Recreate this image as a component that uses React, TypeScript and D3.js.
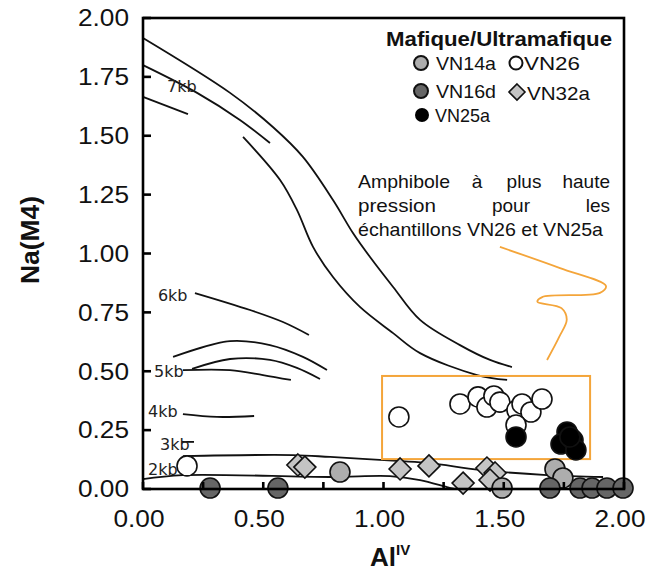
import * as d3 from 'd3';

// isobars (x = Al IV, y = Na M4)
const iso7a: [number, number][] = [[0, 1.915], [0.362, 1.682], [0.54, 1.537], [0.665, 1.41], [0.79, 1.227], [0.873, 1.087], [0.944, 0.985], [1.04, 0.858], [1.152, 0.718], [1.318, 0.611], [1.443, 0.548], [1.534, 0.518]];
const iso7b: [number, number][] = [[0, 1.8], [0.225, 1.682], [0.403, 1.567], [0.528, 1.469]];
const iso7c: [number, number][] = [[0, 1.665], [0.187, 1.592]];
const iso7d: [number, number][] = [[0.416, 1.495], [0.57, 1.312], [0.64, 1.185], [0.707, 1.028], [0.79, 0.9], [0.902, 0.773], [1.04, 0.662], [1.152, 0.577], [1.389, 0.484], [1.514, 0.463]];
const iso6: [number, number][] = [[0.216, 0.832], [0.445, 0.76], [0.582, 0.709], [0.69, 0.654]];
const iso5a: [number, number][] = [[0.125, 0.561], [0.362, 0.628], [0.528, 0.611], [0.665, 0.561], [0.765, 0.505]];
const iso5b: [number, number][] = [[0.204, 0.51], [0.362, 0.552], [0.528, 0.548], [0.64, 0.514], [0.736, 0.467]];
const iso5c: [number, number][] = [[0.166, 0.505], [0.362, 0.505], [0.499, 0.484], [0.615, 0.463]];
const iso4: [number, number][] = [[0.166, 0.318], [0.308, 0.306], [0.462, 0.31]];
const iso3: [number, number][] = [[0.162, 0.2], [0.212, 0.2]];
const iso2a: [number, number][] = [[0.166, 0.14], [0.624, 0.144], [0.778, 0.136], [1.056, 0.119], [1.193, 0.11], [1.401, 0.081], [1.68, 0.059], [1.913, 0.051]];
const iso2b: [number, number][] = [[0, 0.042], [0.166, 0.059], [0.778, 0.051], [1.027, 0.055], [1.152, 0.038], [1.264, 0.008], [1.297, 0]];
const isobars = [iso7a, iso7b, iso7c, iso7d, iso6, iso5a, iso5b, iso5c, iso4, iso3, iso2a, iso2b];

const isoLabels = ['7kb', '6kb', '5kb', '4kb', '3kb', '2kb'];
const isoLabelPos: [number, number][] = [[0.1, 1.686], [0.062, 0.798], [0.046, 0.475], [0.021, 0.306], [0.071, 0.166], [0.021, 0.059]];

// samples
const vn14a: [number, number][] = [[0.819, 0.072], [1.493, 0.004], [1.713, 0.085], [1.746, 0.047]];
const vn16d: [number, number][] = [[0.279, 0.004], [0.561, 0.004], [1.692, 0.004], [1.817, 0.004], [1.867, 0.004], [1.929, 0.004], [1.996, 0.004]];
const vn32a: [number, number][] = [[0.644, 0.102], [0.673, 0.093], [1.069, 0.085], [1.189, 0.098], [1.331, 0.025], [1.43, 0.089], [1.464, 0.068], [1.443, 0.038]];
const vn26: [number, number][] = [[0.183, 0.098], [1.064, 0.306], [1.318, 0.361], [1.393, 0.391], [1.43, 0.348], [1.459, 0.395], [1.484, 0.369], [1.555, 0.335], [1.576, 0.361], [1.613, 0.327], [1.659, 0.382], [1.551, 0.272]];
const vn25a: [number, number][] = [[1.551, 0.221], [1.763, 0.242], [1.738, 0.191], [1.788, 0.208], [1.8, 0.166], [1.775, 0.221]];

// orange highlight box and squiggle
const boxX = [0.994, 1.859];
const boxY = [0.127, 0.48];
const squiggle: [number, number][] = [[1.484, 1.028], [1.734, 0.938], [1.925, 0.862], [1.9, 0.833], [1.66, 0.815], [1.64, 0.795], [1.74, 0.768], [1.762, 0.72], [1.73, 0.645], [1.68, 0.548]];

const yTicks = [0, 0.25, 0.5, 0.75, 1, 1.25, 1.5, 1.75, 2];
const xTicks = [0, 0.25, 0.5, 0.75, 1, 1.25, 1.5, 1.75, 2];
const xTickLabels = [0, 0.5, 1, 1.5, 2];

const W = 647;
const H = 576;
const margin = { top: 18, right: 23, bottom: 87, left: 143 };

const SANS = 'Liberation Sans, Arial, Helvetica, sans-serif';

export default function App() {
  const x = d3.scaleLinear().domain([0, 2]).range([margin.left, W - margin.right]);
  const y = d3.scaleLinear().domain([0, 2]).range([H - margin.bottom, margin.top]);
  const line = d3.line<[number, number]>().x((d) => x(d[0])).y((d) => y(d[1])).curve(d3.curveCatmullRom.alpha(0.5));
  const x0 = x(0), x1 = x(2), y0 = y(0), y1 = y(2);

  const circle = (pts: [number, number][], fill: string, key: string) =>
    pts.map((d, i) => (
      <circle key={key + i} cx={x(d[0])} cy={y(d[1])} r={10} fill={fill} stroke="#111" strokeWidth={1.6} />
    ));
  const diamond = (cx: number, cy: number, s: number, key: string) => (
    <path key={key} d={`M${cx},${cy - s}L${cx + s},${cy}L${cx},${cy + s}L${cx - s},${cy}Z`} fill="#c4c4c4" stroke="#111" strokeWidth={1.6} />
  );
  const stretch = { lengthAdjust: 'spacingAndGlyphs' as const };

  return (
    <svg width={W} height={H} style={{ position: 'absolute', left: 0, top: 0, background: '#fff' }}>
      {/* isobars */}
      {isobars.map((pts, i) => (
        <path key={'iso' + i} d={line(pts) ?? ''} fill="none" stroke="#111" strokeWidth={1.8} />
      ))}
      {isoLabels.map((t, i) => (
        <text key={t} x={x(isoLabelPos[i][0])} y={y(isoLabelPos[i][1])} fontFamily="DejaVu Sans, sans-serif" fontSize={16} fill="#222">
          {t}
        </text>
      ))}

      {/* orange box + squiggle */}
      <rect x={x(boxX[0])} y={y(boxY[1])} width={x(boxX[1]) - x(boxX[0])} height={y(boxY[0]) - y(boxY[1])} fill="none" stroke="#f4a53a" strokeWidth={2} />
      <path d={line(squiggle) ?? ''} fill="none" stroke="#f4a53a" strokeWidth={1.8} />

      {/* annotation, justified */}
      <g fontFamily={SANS} fontSize={19} fill="#111">
        <text x={358} y={188} textLength={92} {...stretch}>Amphibole</text>
        <text x={477} y={188} textAnchor="middle">à</text>
        <text x={524} y={188} textAnchor="middle">plus</text>
        <text x={610} y={188} textAnchor="end">haute</text>
        <text x={358} y={212} textLength={78} {...stretch}>pression</text>
        <text x={511} y={212} textAnchor="middle">pour</text>
        <text x={610} y={212} textAnchor="end">les</text>
        <text x={358} y={236} textLength={245} {...stretch}>échantillons VN26 et VN25a</text>
      </g>

      {/* points */}
      {vn32a.map((d, i) => diamond(x(d[0]), y(d[1]), 11, 'd' + i))}
      {circle(vn14a, '#adadad', 'a')}
      {circle(vn16d, '#666', 'b')}
      {circle(vn26, '#fff', 'c')}
      {circle(vn25a, '#000', 'e')}

      {/* frame and ticks */}
      <rect x={x0} y={y1} width={x1 - x0} height={y0 - y1} fill="none" stroke="#000" strokeWidth={2.6} />
      {yTicks.map((t) => (
        <g key={'y' + t}>
          <line x1={x0} x2={x0 + 8} y1={y(t)} y2={y(t)} stroke="#000" strokeWidth={2.6} />
          <text x={129} y={y(t)} dy="0.36em" textAnchor="end" fontFamily={SANS} fontSize={23} fill="#111" textLength={51} {...stretch}>
            {t.toFixed(2)}
          </text>
        </g>
      ))}
      {xTicks.map((t) => (
        <line key={'x' + t} x1={x(t)} x2={x(t)} y1={y0} y2={y0 - 7} stroke="#000" strokeWidth={2.6} />
      ))}
      {xTickLabels.map((t) => (
        <text key={'xl' + t} x={x(t) - 4} y={527} textAnchor="middle" fontFamily={SANS} fontSize={23} fill="#111" textLength={51} {...stretch}>
          {t.toFixed(2)}
        </text>
      ))}

      {/* axis titles */}
      <text transform={`translate(39,${240}) rotate(-90)`} textAnchor="middle" fontFamily={SANS} fontWeight="bold" fontSize={26} fill="#111" textLength={88} {...stretch}>
        Na(M4)
      </text>
      <text x={370} y={566} fontFamily={SANS} fontWeight="bold" fontSize={26} fill="#111">
        Al
        <tspan fontSize={15} dy={-11}>IV</tspan>
      </text>

      {/* legend */}
      <g fontFamily={SANS} fill="#111">
        <text x={386} y={46} fontWeight="bold" fontSize={20} textLength={226} {...stretch}>Mafique/Ultramafique</text>
        <circle cx={421} cy={63} r={7} fill="#adadad" stroke="#111" strokeWidth={2} />
        <text x={436} y={70} fontSize={19} textLength={60} {...stretch}>VN14a</text>
        <circle cx={516} cy={63} r={6.5} fill="#fff" stroke="#111" strokeWidth={2} />
        <text x={524} y={70} fontSize={19} textLength={56} {...stretch}>VN26</text>
        <circle cx={421} cy={91} r={7} fill="#666" stroke="#111" strokeWidth={2} />
        <text x={436} y={98} fontSize={19} textLength={60} {...stretch}>VN16d</text>
        {diamond(517, 92, 8, 'legd')}
        <text x={527} y={100} fontSize={19} textLength={63} {...stretch}>VN32a</text>
        <circle cx={422} cy={115} r={7} fill="#000" />
        <text x={435} y={122} fontSize={19} textLength={55} {...stretch}>VN25a</text>
      </g>
    </svg>
  );
}
